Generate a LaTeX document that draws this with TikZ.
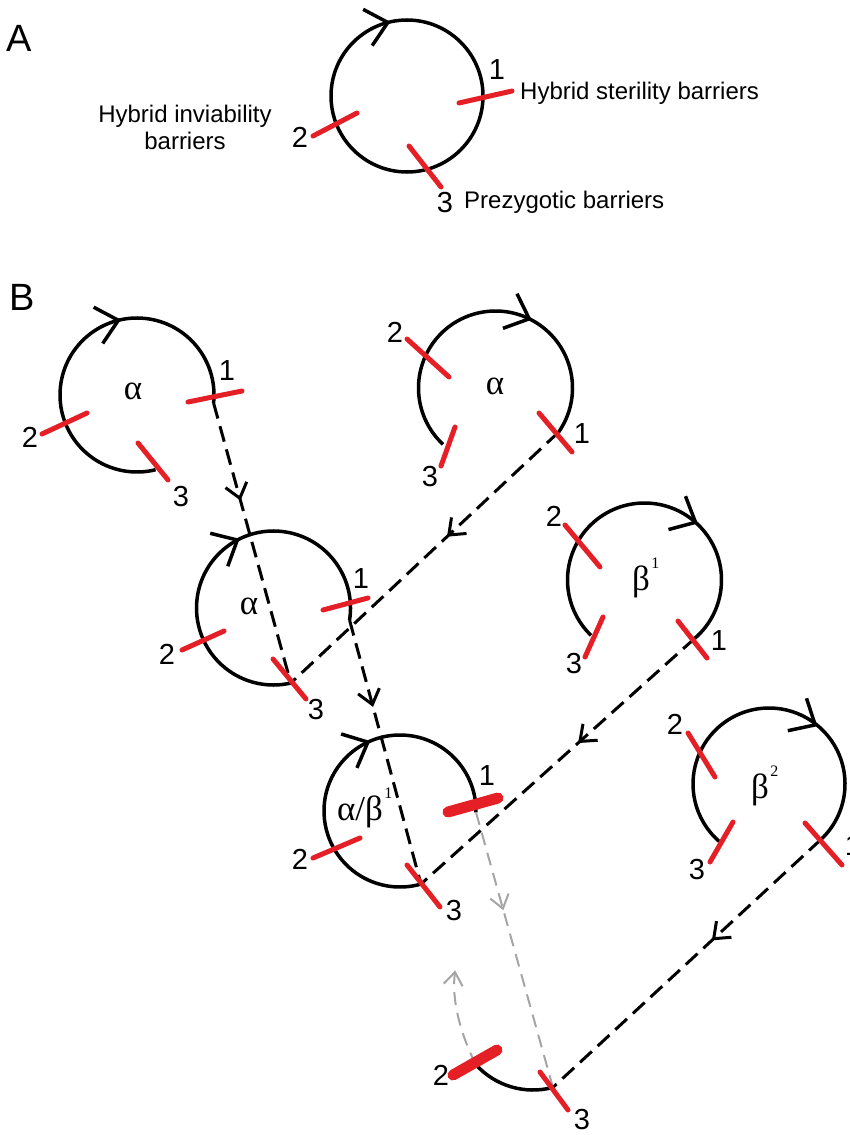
\documentclass[tikz,border=0pt]{standalone}
\usepackage{fontspec}
\setmainfont{Liberation Sans}
\newfontfamily\grk{Liberation Serif}
\usetikzlibrary{arrows.meta,decorations.markings,calc}
\definecolor{tickred}{RGB}{228,32,38}
\definecolor{lgray}{RGB}{165,165,165}
\tikzset{
 ring/.style={line width=3.5pt, black},
 chevline/.style={line width=3.5pt, black, line join=miter},
 tick/.style={line width=5pt, tickred, line cap=round},
 thicktick/.style={line width=11pt, tickred, line cap=round},
 dlink/.style={line width=3pt, black, dash pattern=on 16pt off 8pt, postaction={decorate},
   decoration={markings, mark=at position #1 with {\draw[solid, line width=3pt, line join=miter] (-14,11) -- (0,0) -- (-14,-11);}}},
 glink/.style={line width=2pt, lgray, dash pattern=on 13pt off 8pt, postaction={decorate},
   decoration={markings, mark=at position #1 with {\draw[solid, line width=2pt, line join=miter] (-13,9.5) -- (0,0) -- (-13,-9.5);}}},
 num/.style={font=\fontsize{29}{33}\selectfont, inner sep=0pt},
 lab/.style={font=\fontsize{24}{27}\selectfont, inner sep=0pt},
 greek/.style={font=\fontsize{35}{40}\selectfont\grk, inner sep=0pt},
 panel/.style={font=\fontsize{38}{44}\selectfont, inner sep=0pt},
 chev/.pic={\draw[chevline] (-20.8,18.7) -- (0,0) -- (-20.8,-18.7);}
}
\newcommand\supnum[1]{\rlap{\hspace{1.5pt}\smash{\raisebox{22pt}{\fontsize{16}{16}\selectfont #1}}}}
\begin{document}
\begin{tikzpicture}[x=1pt,y=1pt]
\useasboundingbox (0,0) rectangle (849,-1135);
% ---------------- Panel A
\node[panel] (pA) at (19,-38) {A};
\coordinate (ca) at (407,-96);
\draw[ring] (ca) circle[radius=76pt];
\pic[rotate=14] at ($(ca)+(104.6:76pt)$) {chev};
\draw[tick] (459,-103) -- (512,-91);
\draw[tick] (313,-136) -- (357,-113);
\draw[tick] (409,-146) -- (441,-187);
\node[num] (a1) at (497,-70) {1};
\node[num] (a2) at (300,-137) {2};
\node[num] (a3) at (445,-203) {3};
\node[lab, anchor=west] (hs) at (520,-93) {Hybrid sterility barriers};
\node[lab, anchor=west] (pz) at (464,-202) {Prezygotic barriers};
\node[lab, align=center] (hi) at (185,-127) {Hybrid inviability\\barriers};
% ---------------- Panel B
\node[panel] (pB) at (22,-297) {B};
% centres
\coordinate (b1) at (137,-395);
\coordinate (b2) at (495.5,-388);
\coordinate (b3) at (273.5,-608);
\coordinate (b4) at (400,-811);
\coordinate (b5) at (644.5,-580);
\coordinate (b6) at (769,-784);
\coordinate (b7) at (533,-1013);
% circle arcs
\draw[ring] ($(b1)+(-6:77pt)$) arc[start angle=-6, end angle=284, radius=77pt];
\draw[ring] ($(b2)+(-35:77pt)$) arc[start angle=-35, end angle=227, radius=77pt];
\draw[ring] ($(b3)+(-9:77pt)$) arc[start angle=-9, end angle=283, radius=77pt];
\draw[ring] ($(b4)+(-1:76pt)$) arc[start angle=-1, end angle=286, radius=76pt];
\draw[ring] ($(b5)+(-49:77pt)$) arc[start angle=-49, end angle=226, radius=77pt];
\draw[ring] ($(b6)+(-47:76pt)$) arc[start angle=-47, end angle=229, radius=76pt];
\draw[ring] ($(b7)+(222:77pt)$) arc[start angle=222, end angle=285, radius=77pt];
% chevrons
\pic[rotate=14] at ($(b1)+(104:77pt)$) {chev};
\pic[rotate=-22] at ($(b2)+(64:77pt)$) {chev};
\pic[rotate=28] at ($(b3)+(118:77pt)$) {chev};
\pic[rotate=25] at ($(b4)+(115:76pt)$) {chev};
\pic[rotate=-27] at ($(b5)+(48.5:77pt)$) {chev};
\pic[rotate=-30] at ($(b6)+(52:75pt)$) {chev};
% connector end points
\coordinate (b1o) at ($(b1)+(-6:77pt)$);
\coordinate (b2o) at ($(b2)+(-35:77pt)$);
\coordinate (b3o) at ($(b3)+(-9:77pt)$);
\coordinate (b3i) at ($(b3)+(283:77pt)$);
\coordinate (b4o) at ($(b4)+(-1:76pt)$);
\coordinate (b4i) at ($(b4)+(286:76pt)$);
\coordinate (b5o) at ($(b5)+(-49:77pt)$);
\coordinate (b6o) at ($(b6)+(-47:76pt)$);
\coordinate (b7i) at ($(b7)+(285:77pt)$);
\coordinate (b7s) at ($(b7)+(222:77pt)$);
\coordinate (gend) at (455,-972);
% connectors
\draw[dlink=0.34] (b1o) -- (b3i);
\draw[dlink=0.41] (b2o) -- (b3i);
\draw[dlink=0.32] (b3o) -- (b4i);
\draw[dlink=0.42] (b5o) -- (b4i);
\draw[glink=0.35] (b4o) -- (b7i);
\draw[dlink=0.40] (b6o) -- (b7i);
\draw[glink=0.999] (b7s) .. controls (461,-1035) and (451,-1000) .. (gend);
% ticks
\draw[tick] (188,-402) -- (242,-391);
\draw[tick] (42,-434) -- (87,-413);
\draw[tick] (138,-443) -- (168,-480);
\draw[tick] (407,-339) -- (449,-377);
\draw[tick] (539,-413) -- (572,-452);
\draw[tick] (455,-427) -- (441,-466);
\draw[tick] (323,-610) -- (368,-598);
\draw[tick] (182,-650) -- (224,-631);
\draw[tick] (273,-659) -- (306,-699);
\draw[thicktick] (448,-812) -- (498,-798);
\draw[tick] (313,-858) -- (360,-838);
\draw[tick] (407,-865) -- (440,-907);
\draw[tick] (565,-525) -- (600,-567);
\draw[tick] (603,-617) -- (585,-657);
\draw[tick] (678,-621) -- (707,-658);
\draw[tick] (688,-733) -- (715,-777);
\draw[tick] (733,-822) -- (710,-862);
\draw[tick] (805,-823) -- (842,-865);
\draw[thicktick] (453,-1075) -- (497,-1050);
\draw[tick] (540,-1072) -- (568,-1110);
% greek labels
\node[greek] (g1) at (133,-391) {α};
\node[greek] (g2) at (495,-386) {α};
\node[greek] (g3) at (249,-606) {α};
\node[greek] (g4) at (360,-812) {α/β\supnum{1}};
\node[greek] (g5) at (641,-582) {β\supnum{1}};
\node[greek] (g6) at (760,-790) {β\supnum{2}};
% number labels
\node[num] (n11) at (227,-371) {1};
\node[num] (n12) at (30,-437) {2};
\node[num] (n13) at (181,-497) {3};
\node[num] (n21) at (582,-434) {1};
\node[num] (n22) at (395,-332) {2};
\node[num] (n23) at (430,-477) {3};
\node[num] (n31) at (361,-579) {1};
\node[num] (n32) at (167,-654) {2};
\node[num] (n33) at (316,-710) {3};
\node[num] (n41) at (487,-776) {1};
\node[num] (n42) at (300,-859) {2};
\node[num] (n43) at (454,-911) {3};
\node[num] (n51) at (719,-641) {1};
\node[num] (n52) at (554,-516) {2};
\node[num] (n53) at (574,-664) {3};
\node[num] (n61) at (853,-846) {1};
\node[num] (n62) at (675,-724) {2};
\node[num] (n63) at (697,-870) {3};
\node[num] (n72) at (441,-1075) {2};
\node[num] (n73) at (582,-1120) {3};
\end{tikzpicture}
\end{document}
